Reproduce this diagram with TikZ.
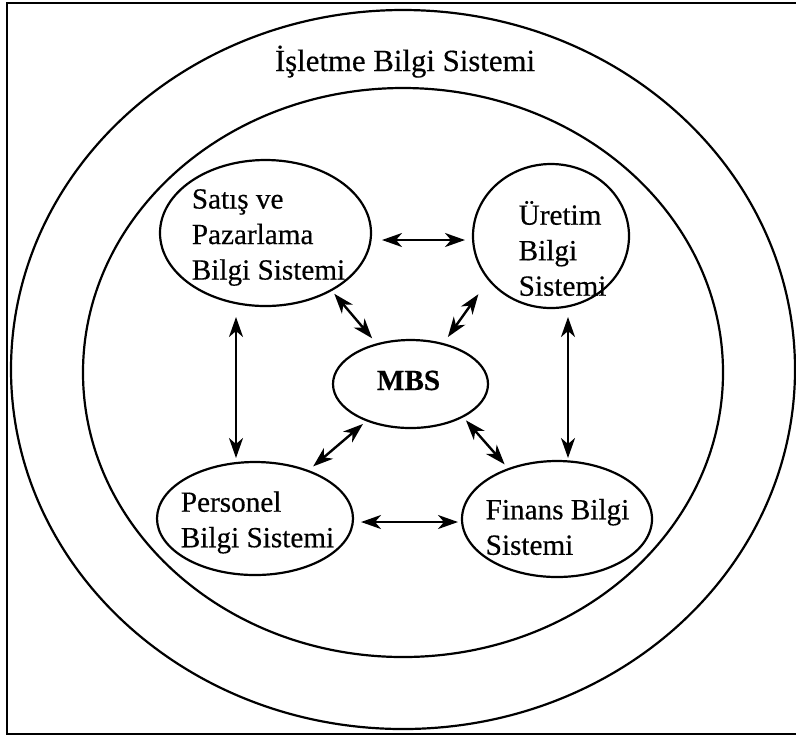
\documentclass[tikz,border=0pt]{standalone}
\usepackage{fontspec}
\setmainfont{Liberation Serif}[FakeBold=0.4]
\usetikzlibrary{shapes.geometric,arrows.meta}

\begin{document}
\begin{tikzpicture}[x=0.5pt, y=-0.5pt]
    \tikzstyle{every node}=[inner sep=0, outer sep=0, font=\fontsize{14.6}{17.75}\selectfont]
    \tikzstyle{bubble}=[draw, ellipse, line width=1.1pt]
    \tikzstyle{txt}=[align=left]
    \tikzstyle{link}=[<->, >={Stealth[length=10pt,width=7pt,inset=3pt]}, line width=1.2pt]
    \useasboundingbox (0,0) rectangle (796,736);
    \draw[line width=1.1pt] (7,3) rectangle (800,734);
    \node[bubble, minimum width=392pt, minimum height=359.5pt] (ibs) at (403,369.5) {};
    \node[bubble, minimum width=320pt, minimum height=284.5pt] (core) at (403,372.5) {};
    \node[anchor=base, font=\fontsize{15.4}{18}\selectfont] (ibs-t) at (405,71) {İşletme Bilgi Sistemi};
    \node[bubble, minimum width=105.5pt, minimum height=73pt] (sp) at (265.5,233) {};
    \node[bubble, minimum width=78pt, minimum height=72pt] (ur) at (551,236) {};
    \node[bubble, minimum width=77.5pt, minimum height=44pt] (mbs) at (410.5,384) {};
    \node[bubble, minimum width=98pt, minimum height=56.5pt] (pe) at (255,518.5) {};
    \node[bubble, minimum width=95pt, minimum height=58pt] (fi) at (557,519) {};
    \node[txt] (sp-t) at (268.5,237.5) {Satış ve\\Pazarlama\\Bilgi Sistemi};
    \node[txt] (ur-t) at (562.5,248.5) {Üretim\\Bilgi\\Sistemi};
    \node[anchor=base, font=\fontsize{14.6}{17.75}\selectfont\bfseries] (mbs-t) at (408.5,390) {MBS};
    \node[txt] (pe-t) at (257.5,522.5) {Personel\\Bilgi Sistemi};
    \node[txt] (fi-t) at (557.5,527) {Finans Bilgi\\Sistemi};
    \draw[link, shorten <=5.5pt, shorten >=4pt] ([yshift=-3.5pt]sp.east) -- ([yshift=-2pt]ur.west);
    \draw[link, shorten <=2.4pt, shorten >=3.9pt] (sp.-41) -- (mbs.130);
    \draw[link, shorten <=9pt, shorten >=4.3pt] (ur.215) -- (mbs.51);
    \draw[link, shorten <=5.5pt, shorten >=2pt] ([xshift=-14.75pt]sp.south) -- ([xshift=-9.5pt]pe.north);
    \draw[link, shorten <=4.5pt, shorten >=1.5pt] ([xshift=8.5pt]ur.south) -- ([xshift=5.5pt]fi.north);
    \draw[link, shorten <=2.7pt, shorten >=3.5pt] (mbs.220) -- (pe.42);
    \draw[link, shorten <=2.5pt, shorten >=3.1pt] (mbs.-32) -- (fi.134);
    \draw[link, shorten <=4pt, shorten >=2pt] ([yshift=-1.75pt]pe.east) -- ([yshift=-1.5pt]fi.west);
\end{tikzpicture}
\end{document}
